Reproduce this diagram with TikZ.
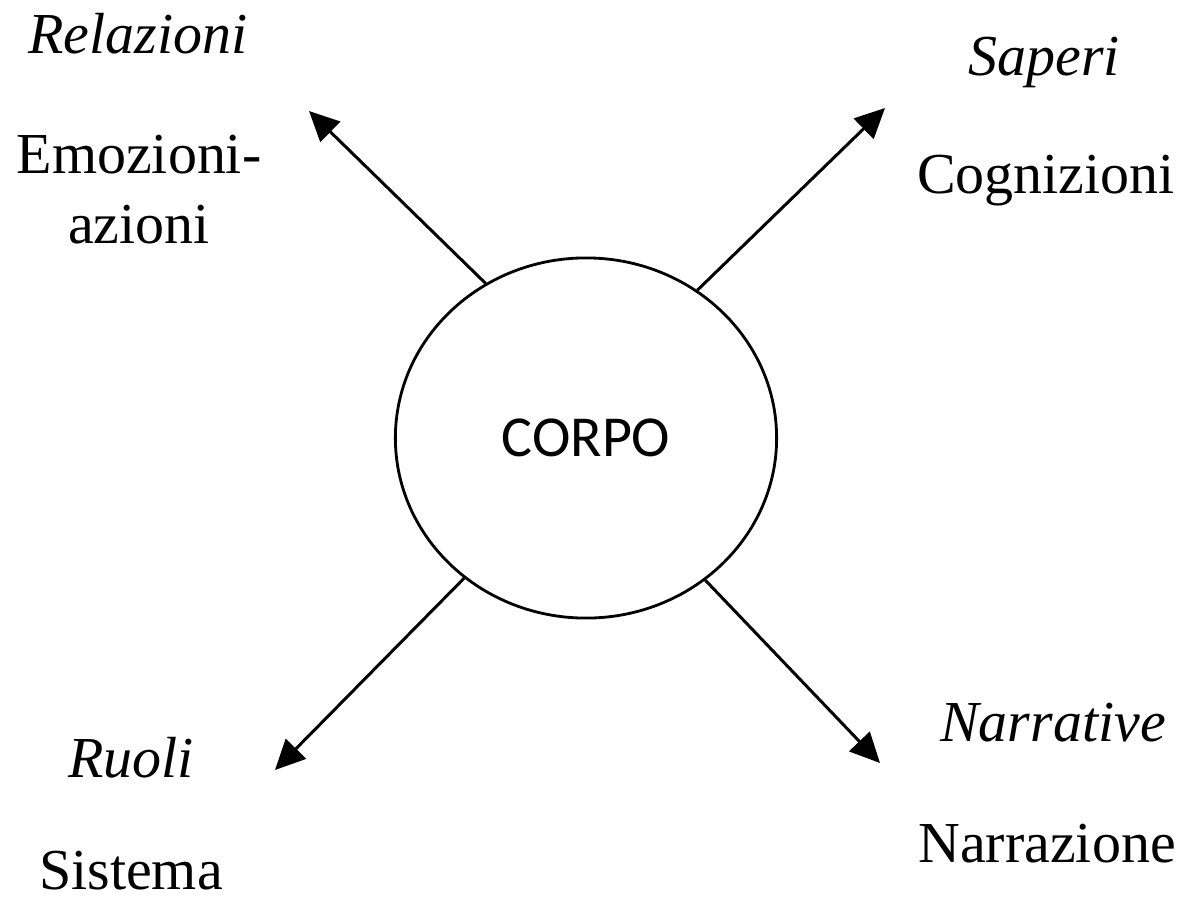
\documentclass[tikz,border=0pt]{standalone}
\usepackage{fontspec}
\setmainfont{Liberation Serif}
\newfontfamily\corpofont{Carlito}
\usetikzlibrary{arrows.meta,shapes.geometric}
\tikzset{
  lbl/.style={font=\fontsize{33}{38}\selectfont, inner sep=0pt, anchor=base},
  ilbl/.style={lbl, font=\fontsize{33}{38}\selectfont\itshape},
  arr/.style={line width=1.7pt, -{Triangle[length=17pt,width=16pt]}},
}
\begin{document}
\begin{tikzpicture}[x=0.02cm,y=-0.02cm]
\useasboundingbox (0,0) rectangle (1197,899);
\node[ellipse, draw, line width=1.6pt, minimum width=217pt, minimum height=205pt, inner sep=0pt,
  font=\corpofont\fontsize{33}{38}\selectfont] (corpo) at (586,438) {CORPO};
% labels
\node[ilbl] (rel) at (138,53) {Relazioni};
\node[lbl] (emo) at (139,173) {Emozioni-};
\node[lbl] (azi) at (139,243) {azioni};
\node[ilbl] (sap) at (1044,75) {Saperi};
\node[lbl] (cog) at (1046,193) {Cognizioni};
\node[ilbl] (ruo) at (131,777) {Ruoli};
\node[lbl] (sis) at (131,889) {Sistema};
\node[ilbl] (nar) at (1053,741) {Narrative};
\node[lbl] (nrz) at (1047,862) {Narrazione};
% arrow end points
\coordinate (tUL) at (309,111);
\coordinate (tUR) at (885,108);
\coordinate (tLL) at (275,770);
\coordinate (tLR) at (880,763);
\draw[arr] (corpo.123) -- (tUL);
\draw[arr] (corpo.53) -- (tUR);
\draw[arr] (corpo.-131) -- (tLL);
\draw[arr] (corpo.-50) -- (tLR);
\end{tikzpicture}
\end{document}
